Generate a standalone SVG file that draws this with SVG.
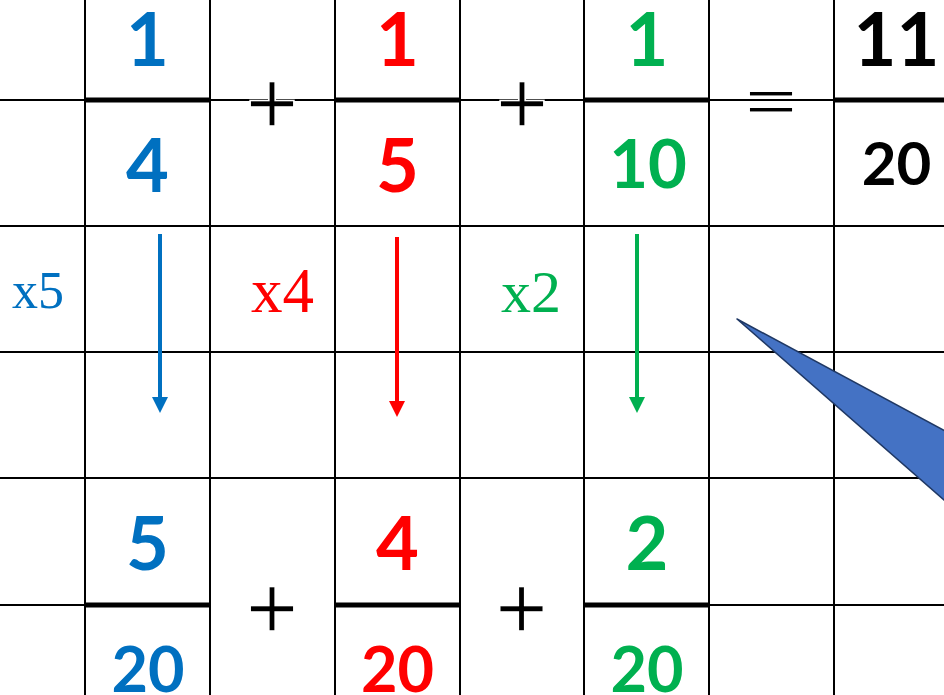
<svg xmlns="http://www.w3.org/2000/svg" width="944" height="695" viewBox="0 0 944 695">
<style>
.g{stroke:#000;stroke-width:2;fill:none}
.b{stroke:#000;stroke-width:5;fill:none}
.n{font-family:Lato,"Liberation Sans",sans-serif;font-weight:bold;text-anchor:middle}
.op{font-family:"Liberation Sans",Arial,sans-serif;font-size:90px;text-anchor:middle;fill:#000;stroke:#fff;stroke-width:1.6px}
.m{font-family:"Liberation Serif","Times New Roman",serif}
.blue{fill:#0070C0}.red{fill:#FF0000}.green{fill:#00B050}.black{fill:#000}
.big{font-size:74px}
</style>
<defs>
<marker id="ahB" markerUnits="userSpaceOnUse" markerWidth="16" markerHeight="16" viewBox="0 0 16 16" refX="0" refY="8" orient="auto"><path d="M0,0 L16,8 L0,16 z" fill="#0070C0"/></marker>
<marker id="ahR" markerUnits="userSpaceOnUse" markerWidth="16" markerHeight="16" viewBox="0 0 16 16" refX="0" refY="8" orient="auto"><path d="M0,0 L16,8 L0,16 z" fill="#FF0000"/></marker>
<marker id="ahG" markerUnits="userSpaceOnUse" markerWidth="16" markerHeight="16" viewBox="0 0 16 16" refX="0" refY="8" orient="auto"><path d="M0,0 L16,8 L0,16 z" fill="#00B050"/></marker>
</defs>
<rect width="944" height="695" fill="#fff"/>
<g id="grid">
<path class="g" d="M85,0V695M210,0V695M335,0V695M460,0V695M584,0V695M709,0V695M834,0V695"/>
<path class="g" d="M0,226H944M0,352H944M0,478H944"/>
<path class="g" d="M0,100H85M210,100H335M460,100H584M709,100H834"/>
<path class="g" d="M0,605H85M709,605H944"/>
<path class="b" d="M85,100H210M335,100H460M584,100H709M834,100H944"/>
<path class="b" d="M85,605H210M335,605H460M584,605H709"/>
</g>
<g id="frac-1-4">
<text class="n blue big" x="147.5" y="66">1</text>
<text class="n blue big" x="147.5" y="192">4</text>
</g>
<g id="plus-top-1"><text class="op" x="272" y="134">+</text></g>
<g id="frac-1-5">
<text class="n red big" x="397.5" y="66">1</text>
<text class="n red big" x="397.5" y="192">5</text>
</g>
<g id="plus-top-2"><text class="op" x="522" y="134">+</text></g>
<g id="frac-1-10">
<text class="n green big" x="647" y="66">1</text>
<text class="n green" font-size="67" x="648" y="188">10</text>
</g>
<g id="equals"><text class="op" transform="translate(771,102) scale(1,0.71)" x="0" y="30">=</text></g>
<g id="frac-11-20">
<text class="n black big" x="896.5" y="66">11</text>
<text class="n black" font-size="60" x="896.5" y="185">20</text>
</g>
<g id="label-x5"><text class="m blue" font-size="52" x="12" y="308">x5</text></g>
<g id="label-x4"><text class="m red" font-size="63" x="251" y="312">x4</text></g>
<g id="label-x2"><text class="m green" font-size="60" x="501" y="312">x2</text></g>
<g id="frac-5-20">
<text class="n blue big" x="147.5" y="570">5</text>
<text class="n blue" font-size="63" x="148" y="692">20</text>
</g>
<g id="plus-bot-1"><text class="op" x="272" y="639">+</text></g>
<g id="frac-4-20">
<text class="n red big" x="397.5" y="570">4</text>
<text class="n red" font-size="63" x="397.5" y="692">20</text>
</g>
<g id="plus-bot-2"><text class="op" x="521.5" y="639">+</text></g>
<g id="frac-2-20">
<text class="n green big" x="647" y="570">2</text>
<text class="n green" font-size="63" x="647" y="692">20</text>
</g>
<g id="connectors">
<line x1="160" y1="234" x2="160" y2="397" stroke="#0070C0" stroke-width="4" marker-end="url(#ahB)"/>
<line x1="397" y1="237" x2="397" y2="401" stroke="#FF0000" stroke-width="4" marker-end="url(#ahR)"/>
<line x1="637" y1="234" x2="637" y2="397" stroke="#00B050" stroke-width="4" marker-end="url(#ahG)"/>
</g>
<g id="pointer">
<polygon points="737,319 960,439 960,514" fill="#4472C4" stroke="#1F3864" stroke-width="1.5" stroke-linejoin="round"/>
</g>
</svg>
